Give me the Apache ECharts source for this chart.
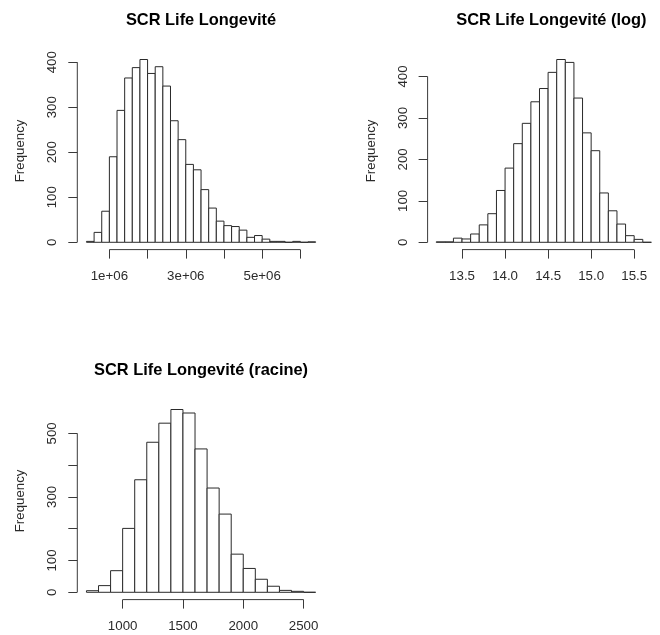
<!DOCTYPE html>
<html>
<head>
<meta charset="utf-8">
<title>SCR Life Longevité</title>
<script src="https://cdn.jsdelivr.net/npm/echarts@6/dist/echarts.min.js"></script>
<style>
  html, body { margin: 0; padding: 0; background: #fff; }
  #chart { width: 660px; height: 635px; }
</style>
</head>
<body>
<div id="chart"></div>
<script>
// ---- Histogram data: bin breaks and counts ----
const rawBreaks = [400000, 600000, 800000, 1000000, 1200000, 1400000, 1600000, 1800000,
  2000000, 2200000, 2400000, 2600000, 2800000, 3000000, 3200000, 3400000, 3600000,
  3800000, 4000000, 4200000, 4400000, 4600000, 4800000, 5000000, 5200000, 5400000,
  5600000, 5800000, 6000000, 6200000, 6400000];
const rawCounts = [2, 22, 69, 190, 293, 365, 388, 406, 375, 390, 347, 270, 228, 173, 161,
  117, 76, 47, 37, 35, 27, 11, 15, 7, 2, 2, 0, 2, 0, 1];

const logBreaks = [13.2, 13.3, 13.4, 13.5, 13.6, 13.7, 13.8, 13.9, 14.0, 14.1, 14.2, 14.3,
  14.4, 14.5, 14.6, 14.7, 14.8, 14.9, 15.0, 15.1, 15.2, 15.3, 15.4, 15.5, 15.6, 15.7];
const logCounts = [1, 1, 10, 8, 20, 42, 69, 125, 179, 238, 287, 339, 371, 410, 441, 434,
  348, 264, 221, 119, 76, 44, 16, 7, 0];

const sqrtBreaks = [700, 800, 900, 1000, 1100, 1200, 1300, 1400, 1500, 1600, 1700, 1800,
  1900, 2000, 2100, 2200, 2300, 2400, 2500, 2600];
const sqrtCounts = [5, 21, 68, 201, 354, 472, 532, 575, 564, 451, 328, 246, 120, 75, 41,
  19, 6, 3, 0];

// ---- Axis ticks and labels ----
const rawXTicks = [1000000, 2000000, 3000000, 4000000, 5000000, 6000000];
const rawXLabelValues = [1000000, 3000000, 5000000];
const rawXLabels = ['1e+06', '3e+06', '5e+06'];
const rawYTicks = [0, 100, 200, 300, 400];
const rawYLabels = ['0', '100', '200', '300', '400'];

const logXTicks = [13.5, 14.0, 14.5, 15.0, 15.5];
const logXLabels = ['13.5', '14.0', '14.5', '15.0', '15.5'];
const logYTicks = [0, 100, 200, 300, 400];
const logYLabels = ['0', '100', '200', '300', '400'];

const sqrtXTicks = [1000, 1500, 2000, 2500];
const sqrtXLabels = ['1000', '1500', '2000', '2500'];
const sqrtYTicks = [0, 100, 200, 300, 400, 500];
const sqrtYLabelValues = [0, 100, 300, 500];
const sqrtYLabels = ['0', '100', '300', '500'];

const titles = ['SCR Life Longevité', 'SCR Life Longevité (log)', 'SCR Life Longevité (racine)'];
const yName = 'Frequency';

// ---- Styling / layout ----
const FONT = '"Liberation Sans", Arial, Helvetica, sans-serif';
const LINE = '#2a2a2a';
const AXIS = '#3a3a3a';
const TEXT = '#2b2b2b';
const PW = 247.5, PH = 197.4;
const gridPos = [
  { left: 77.3, top: 52.2 },
  { left: 427.6, top: 52.2 },
  { left: 77.3, top: 402.2 }
];

const panels = [
  { breaks: rawBreaks, counts: rawCounts, xTicks: rawXTicks, xLabelValues: rawXLabelValues,
    xLabels: rawXLabels, yTicks: rawYTicks, yLabelValues: rawYTicks, yLabels: rawYLabels },
  { breaks: logBreaks, counts: logCounts, xTicks: logXTicks, xLabelValues: logXTicks,
    xLabels: logXLabels, yTicks: logYTicks, yLabelValues: logYTicks, yLabels: logYLabels },
  { breaks: sqrtBreaks, counts: sqrtCounts, xTicks: sqrtXTicks, xLabelValues: sqrtXTicks,
    xLabels: sqrtXLabels, yTicks: sqrtYTicks, yLabelValues: sqrtYLabelValues, yLabels: sqrtYLabels }
];

function labelFor(values, labels) {
  return function (v) {
    for (let i = 0; i < values.length; i++) {
      if (Math.abs(values[i] - v) < 1e-9 * Math.max(1, Math.abs(v))) return labels[i];
    }
    return '';
  };
}

// Each bin is drawn as an open rectangle from its lower to upper break.
function renderBin(params, api) {
  const lo = api.value(0), hi = api.value(1), n = api.value(2);
  const a = api.coord([lo, 0]);
  const b = api.coord([hi, n]);
  return {
    type: 'rect',
    shape: { x: a[0], y: b[1], width: b[0] - a[0], height: a[1] - b[1] },
    style: { fill: '#ffffff', stroke: LINE, lineWidth: 1 }
  };
}

const option = {
  animation: false,
  backgroundColor: '#ffffff',
  textStyle: { fontFamily: FONT },
  title: [], grid: [], xAxis: [], yAxis: [], series: []
};

panels.forEach(function (p, i) {
  const x0 = p.breaks[0], x1 = p.breaks[p.breaks.length - 1];
  const yTop = Math.max.apply(null, p.counts);
  const xMin = x0 - 0.04 * (x1 - x0), xMax = x1 + 0.04 * (x1 - x0);
  const yMin = -0.04 * yTop, yMax = yTop * 1.04;
  const g = gridPos[i];

  option.title.push({
    text: titles[i],
    left: g.left + PW / 2,
    top: g.top - 39.5,
    textAlign: 'center',
    padding: 0,
    textStyle: { fontFamily: FONT, fontWeight: 'bold', fontSize: 16.4, color: '#000' }
  });

  option.grid.push({ left: g.left, top: g.top, width: PW, height: PH, containLabel: false });

  option.xAxis.push({
    type: 'value', gridIndex: i, min: xMin, max: xMax,
    axisLine: { show: false, onZero: false },
    splitLine: { show: false },
    axisTick: { show: true, customValues: p.xTicks, length: 9, lineStyle: { color: AXIS, width: 1 } },
    axisLabel: {
      customValues: p.xLabelValues, formatter: labelFor(p.xLabelValues, p.xLabels),
      margin: 20, fontSize: 13.3, color: TEXT, fontFamily: FONT
    }
  });

  option.yAxis.push({
    type: 'value', gridIndex: i, min: yMin, max: yMax,
    name: yName, nameLocation: 'middle', nameGap: 50,
    nameTextStyle: { fontSize: 13.3, color: TEXT, fontFamily: FONT },
    axisLine: { show: false, onZero: false },
    splitLine: { show: false },
    axisTick: { show: true, customValues: p.yTicks, length: 9, lineStyle: { color: AXIS, width: 1 } },
    axisLabel: {
      customValues: p.yLabelValues, formatter: labelFor(p.yLabelValues, p.yLabels),
      rotate: 90, margin: 18, fontSize: 13.3, color: TEXT, fontFamily: FONT
    }
  });

  const bins = p.counts.map(function (c, k) { return [p.breaks[k], p.breaks[k + 1], c]; });
  option.series.push({
    type: 'custom', xAxisIndex: i, yAxisIndex: i,
    renderItem: renderBin, data: bins,
    encode: { x: [0, 1], y: 2 }, clip: false, silent: true
  });

  // Axis lines span from the first to the last tick only.
  option.series.push({
    type: 'line', xAxisIndex: i, yAxisIndex: i, clip: false, silent: true,
    symbol: 'none', lineStyle: { color: AXIS, width: 1 },
    data: [[p.xTicks[0], yMin], [p.xTicks[p.xTicks.length - 1], yMin]]
  });
  option.series.push({
    type: 'line', xAxisIndex: i, yAxisIndex: i, clip: false, silent: true,
    symbol: 'none', lineStyle: { color: AXIS, width: 1 },
    data: [[xMin, p.yTicks[0]], [xMin, p.yTicks[p.yTicks.length - 1]]]
  });
});

const chart = echarts.init(document.getElementById('chart'), null, { renderer: 'canvas' });
chart.setOption(option);
</script>
</body>
</html>
